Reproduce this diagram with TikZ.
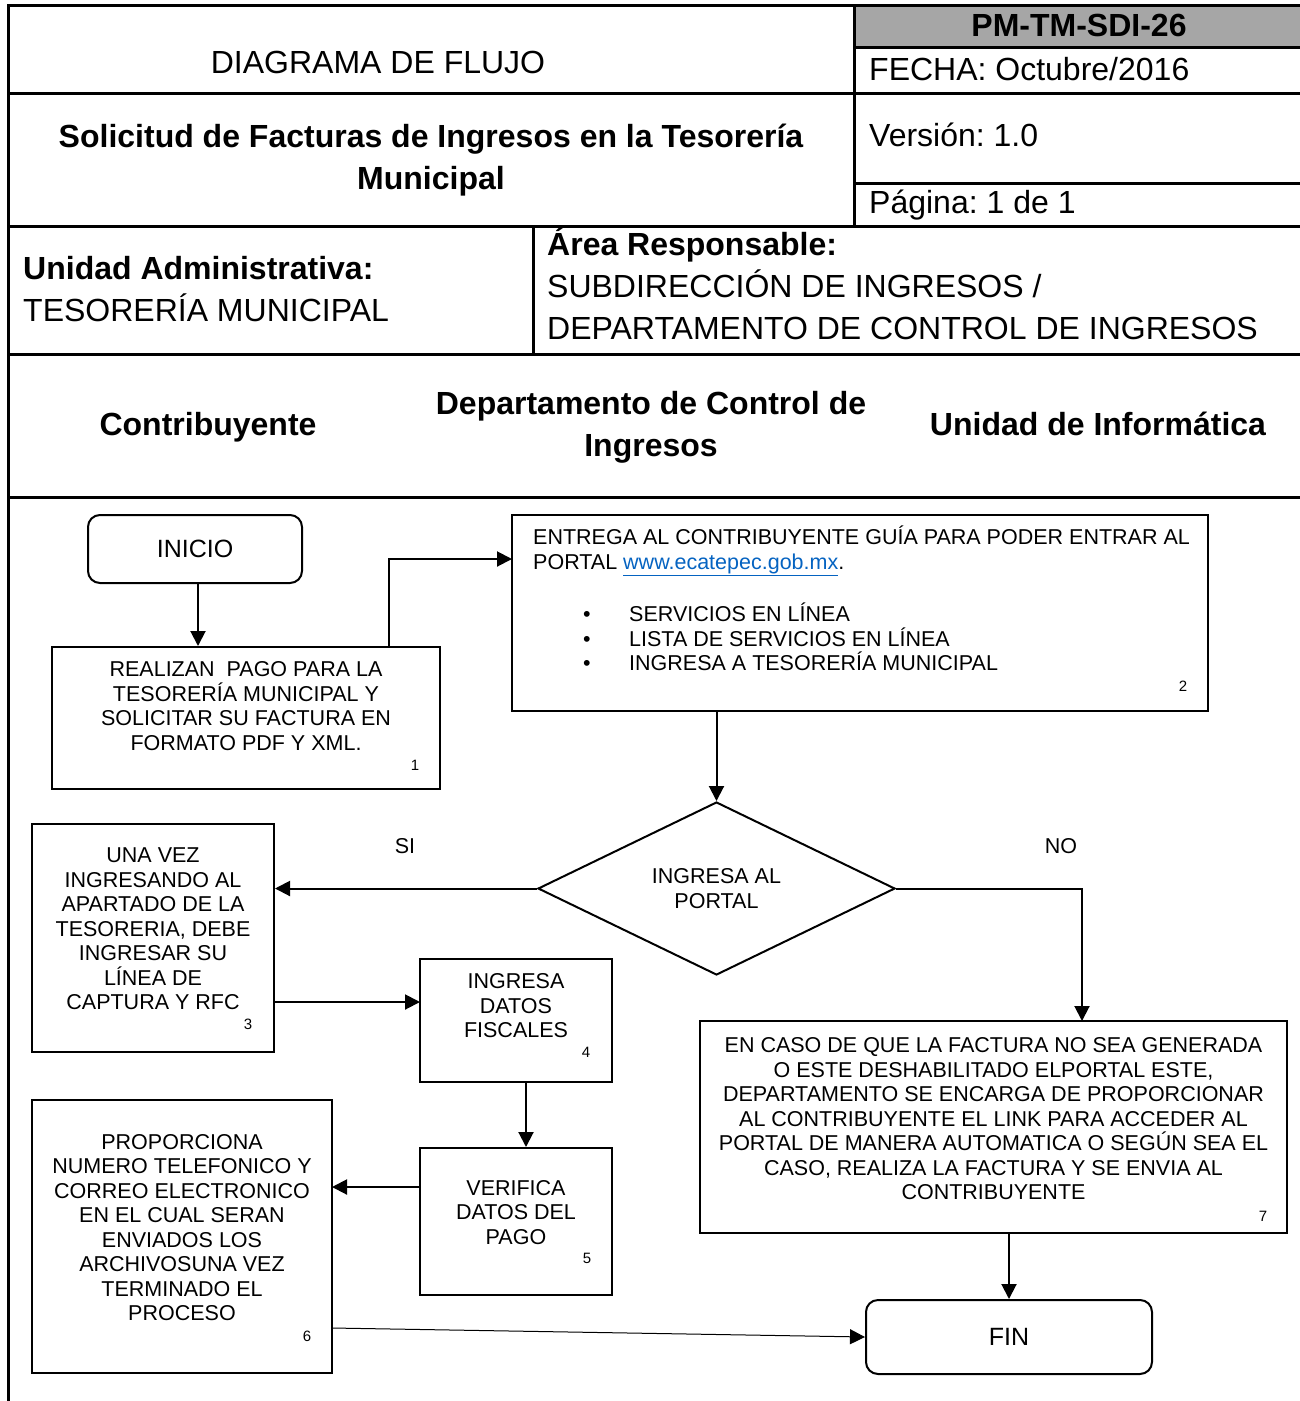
\documentclass[tikz,border=0pt]{standalone}
\usepackage{fontspec}
\setmainfont{Liberation Sans}
\usetikzlibrary{shapes.geometric,arrows.meta}
\definecolor{cellgray}{HTML}{A6A6A6}
\definecolor{linkblue}{HTML}{0563C1}
\frenchspacing
\newcommand\hdfont{\fontsize{32}{42}\selectfont}
\newcommand\bxfont{\fontsize{21.5}{24.5}\selectfont}
\newcommand\tmfont{\fontsize{25}{30}\selectfont}
\newcommand\nrfont{\fontsize{15}{17}\selectfont}
\newcommand\bulitem[1]{\hspace*{50pt}\makebox[46pt][l]{\textbullet}#1}
\newcommand\weblink[1]{\textcolor{linkblue}{\underline{#1}}}
\begin{document}
\begin{tikzpicture}[x=1pt,y=-1pt,
 hd/.style={font=\hdfont,inner sep=0pt},
 hdb/.style={font=\hdfont\bfseries,inner sep=0pt,align=center},
 rule/.style={line width=3pt},
 proc/.style={draw,line width=2pt,inner sep=0pt},
 term/.style={draw,line width=2pt,rounded corners=12pt,font=\tmfont},
 decision/.style={draw,line width=2pt,diamond,inner sep=0pt,aspect=2.06},
 txt/.style={font=\bxfont,align=center,inner sep=0pt},
 num/.style={font=\nrfont,inner sep=0pt},
 flow/.style={-{Triangle[length=15pt,width=15pt]},line width=2pt}]
\useasboundingbox (0,0) rectangle (1300,1401);
% header table
\fill[cellgray] (854,5) rectangle (1300,47);
\draw[rule] (8,1401) -- (8,5) -- (1300,5);
\draw[rule] (854,47) -- (1300,47);
\draw[rule] (8,93) -- (1300,93);
\draw[rule] (854,183) -- (1300,183);
\draw[rule] (8,226) -- (1300,226);
\draw[rule] (8,354) -- (1300,354);
\draw[rule] (8,497) -- (1300,497);
\draw[rule] (854,5) -- (854,226);
\draw[rule] (533,226) -- (533,354);
\node[hd,anchor=base] (kind) at (378,73.5) {DIAGRAMA DE FLUJO};
\node[hdb,anchor=base] (code) at (1079,36.5) {PM-TM-SDI-26};
\node[hd,anchor=base west] (date) at (869,80.5) {FECHA: Octubre/2016};
\node[hdb] (title) at (431,160) {Solicitud de Facturas de Ingresos en la Tesorería\\Municipal};
\node[hd,anchor=base west] (version) at (869,146.5) {Versión: 1.0};
\node[hd,anchor=base west] (page) at (869,213.5) {Página: 1 de 1};
\node[hd,align=left,anchor=north west] (unit) at (23,256.5)
 {\textbf{Unidad Administrativa:}\\TESORERÍA MUNICIPAL};
\node[hd,align=left,anchor=north west] (area) at (547,227)
 {\textbf{Área Responsable:}\\SUBDIRECCIÓN DE INGRESOS /\\DEPARTAMENTO DE CONTROL DE INGRESOS};
% lanes
\node[hdb,anchor=base] (lane1) at (208,435.5) {Contribuyente};
\node[hdb] (lane2) at (651,427) {Departamento de Control de\\Ingresos};
\node[hdb,anchor=base] (lane3) at (1098,435.5) {Unidad de Informática};
% flow
\node[term,minimum width=214,minimum height=68] (inicio) at (195,549) {INICIO};
\node[proc,minimum width=388,minimum height=142] (b1) at (246,718) {};
\node[txt] (t1) at (246,706) {REALIZAN\ \ PAGO PARA LA\\TESORERÍA MUNICIPAL Y\\SOLICITAR SU FACTURA EN\\FORMATO PDF Y XML.};
\node[num] (n1) at (415,765) {1};
\node[proc,minimum width=696,minimum height=196] (b2) at (860,613) {};
\node[txt,align=left,anchor=north west] (t2) at (533,526)
 {ENTREGA AL CONTRIBUYENTE GUÍA PARA PODER ENTRAR AL\\PORTAL \weblink{www.ecatepec.gob.mx}.\\[26.5pt]
 \bulitem{SERVICIOS EN LÍNEA}\\\bulitem{LISTA DE SERVICIOS EN LÍNEA}\\\bulitem{INGRESA A TESORERÍA MUNICIPAL}};
\node[num] (n2) at (1183,686) {2};
\node[decision,minimum width=357,minimum height=173] (dec) at (716.5,888.5) {};
\node[txt] (tdec) at (716.5,888.5) {INGRESA AL\\PORTAL};
\node[txt] (si) at (405,846) {SI};
\node[txt] (no) at (1061,846) {NO};
\node[proc,minimum width=242,minimum height=228] (b3) at (153,938) {};
\node[txt] (t3) at (153,929) {UNA VEZ\\INGRESANDO AL\\APARTADO DE LA\\TESORERIA, DEBE\\INGRESAR SU\\LÍNEA DE\\CAPTURA Y RFC};
\node[num] (n3) at (248,1024) {3};
\node[proc,minimum width=192,minimum height=123] (b4) at (516,1020.5) {};
\node[txt] (t4) at (516,1006) {INGRESA\\DATOS\\FISCALES};
\node[num] (n4) at (586,1052) {4};
\node[proc,minimum width=192,minimum height=147] (b5) at (516,1221.5) {};
\node[txt] (t5) at (516,1212.5) {VERIFICA\\DATOS DEL\\PAGO};
\node[num] (n5) at (587,1258) {5};
\node[proc,minimum width=300,minimum height=273] (b6) at (182,1236.5) {};
\node[txt] (t6) at (182,1227.5) {PROPORCIONA\\NUMERO TELEFONICO Y\\CORREO ELECTRONICO\\EN EL CUAL SERAN\\ENVIADOS LOS\\ARCHIVOSUNA VEZ\\TERMINADO EL\\PROCESO};
\node[num] (n6) at (307,1336) {6};
\node[proc,minimum width=587,minimum height=212] (b7) at (993.5,1127) {};
\node[txt] (t7) at (993.5,1119) {EN CASO DE QUE LA FACTURA NO SEA GENERADA\\O ESTE DESHABILITADO ELPORTAL ESTE,\\DEPARTAMENTO SE ENCARGA DE PROPORCIONAR\\AL CONTRIBUYENTE EL LINK PARA ACCEDER AL\\PORTAL DE MANERA AUTOMATICA O SEGÚN SEA EL\\CASO, REALIZA LA FACTURA Y SE ENVIA AL\\CONTRIBUYENTE};
\node[num] (n7) at (1263,1216) {7};
\node[term,minimum width=286,minimum height=74] (fin) at (1009,1337) {FIN};
% connectors
\coordinate (in2) at (512,559);
\coordinate (up1) at (389,647);
\coordinate (in4) at (420,1002);
\coordinate (in6) at (332,1187);
\coordinate (out6) at (332,1328);
\coordinate (in7) at (1082,1021);
\draw[flow] ([xshift=3pt]inicio.south) -- ([xshift=3pt]inicio.south |- b1.north);
\draw[flow] (up1) |- (in2);
\draw[flow] (dec.north |- b2.south) -- (dec.north);
\draw[flow] (dec.west) -- (dec.west -| b3.east);
\draw[flow] (dec.east) -| (in7);
\draw[flow] (b3.east |- in4) -- (in4);
\draw[flow] ([xshift=10pt]b4.south) -- ([xshift=10pt]b5.north);
\draw[flow] (b5.west |- in6) -- (in6);
\draw[flow] (fin.north |- b7.south) -- (fin.north);
\draw[flow,line width=1pt] (out6) -- (fin.west);
\end{tikzpicture}
\end{document}
